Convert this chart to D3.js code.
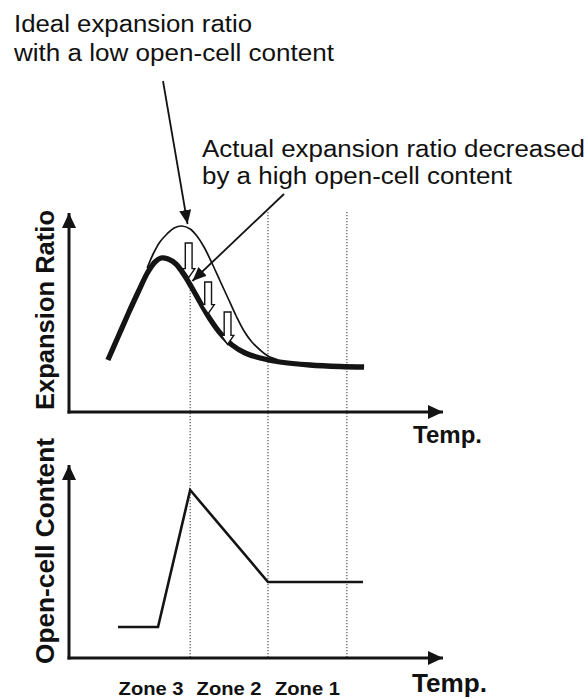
<!DOCTYPE html>
<html>
<head>
<meta charset="utf-8">
<script src="https://cdn.jsdelivr.net/npm/d3@7"></script>
<style>
  html, body { margin: 0; padding: 0; background: #fff; }
  svg { display: block; }
  text { font-family: "Liberation Sans", Arial, Helvetica, sans-serif; fill: #111; }
</style>
</head>
<body>
<svg id="chart" width="588" height="699"></svg>
<script>
// ---------------- data ----------------
// temperature (arbitrary units, 0-100) and expansion ratio (arbitrary, 0-1)
const idealTemp  = [20.9, 22.5, 24.3, 26.2, 28.1, 30.2, 32.4, 34.2, 36.1, 38.2, 40.4, 42.5, 44.7, 46.8, 48.9, 51.1, 53.2, 55.9];
const idealRatio = [0.72, 0.79, 0.85, 0.89, 0.92, 0.93, 0.915, 0.88, 0.825, 0.745, 0.655, 0.57, 0.48, 0.405, 0.35, 0.31, 0.28, 0.26];

const actualTemp  = [10.4, 13.1, 15.8, 18.5, 21.1, 23.0, 24.6, 26.5, 28.6, 30.8, 32.9, 35.0, 37.7, 40.4, 43.6, 47.1, 51.1, 56.4, 64.4, 72.5, 78.9];
const actualRatio = [0.26, 0.375, 0.49, 0.60, 0.70, 0.75, 0.77, 0.765, 0.74, 0.685, 0.62, 0.55, 0.465, 0.395, 0.335, 0.295, 0.27, 0.25, 0.235, 0.2275, 0.225];

// open-cell content (arbitrary, 0-1)
const openTemp    = [13.1, 23.8, 32.4, 53.2, 78.6];
const openContent = [0.155, 0.155, 0.84, 0.38, 0.38];

// zone boundaries and labels
const zoneBounds = [32.4, 53.2, 74.3];
const zoneStartTemp = 11.5;
const zoneLabels = ["Zone 3", "Zone 2", "Zone 1"];

// hollow "decrease" arrows: temp, from ratio, to ratio
const dropTemp = [32.0, 37.2, 42.4];
const dropFrom = [0.845, 0.65, 0.50];
const dropTo   = [0.672, 0.492, 0.338];

// texts
const idealNote  = ["Ideal expansion ratio", "with a low open-cell content"];
const actualNote = ["Actual expansion ratio decreased", "by a high open-cell content"];
const yLabelTop = "Expansion Ratio";
const yLabelBottom = "Open-cell Content";
const xLabel = "Temp.";

// ---------------- drawing ----------------
const svg = d3.select("#chart");
const ink = "#141414";

const x = d3.scaleLinear().domain([0, 100]).range([69, 443]);
const yTop = d3.scaleLinear().domain([0, 1]).range([412, 212]);
const yBot = d3.scaleLinear().domain([0, 1]).range([658, 458]);

const defs = svg.append("defs");
function marker(id, w, h) {
  defs.append("marker").attr("id", id)
    .attr("viewBox", `0 0 ${w} ${h}`).attr("refX", w).attr("refY", h / 2)
    .attr("markerWidth", w).attr("markerHeight", h)
    .attr("markerUnits", "userSpaceOnUse").attr("orient", "auto")
    .append("path").attr("d", `M0,0 L${w},${h/2} L0,${h} Z`).attr("fill", ink);
}
marker("axisHead", 15, 14);
marker("noteHead", 14, 12);

// dotted zone boundary lines
zoneBounds.forEach((b, i) => {
  svg.append("line")
    .attr("x1", x(b)).attr("x2", x(b))
    .attr("y1", i === 0 ? yTop(0.64) : yTop(1.0)).attr("y2", yBot(0))
    .attr("stroke", "#444").attr("stroke-width", 1.1)
    .attr("stroke-dasharray", "1.2,1.8");
});

// axes (top and bottom panel)
function axes(yS, top) {
  const xAxis = d3.axisBottom(x).tickValues([]).tickSizeOuter(0);
  const g = svg.append("g").attr("transform", `translate(0,${yS(0)})`).call(xAxis);
  g.select(".domain").attr("stroke", "none");
  svg.append("line").attr("x1", x(0) - 1.5).attr("x2", 443)
    .attr("y1", yS(0)).attr("y2", yS(0))
    .attr("stroke", ink).attr("stroke-width", 3).attr("marker-end", "url(#axisHead)");
  svg.append("line").attr("x1", x(0)).attr("x2", x(0))
    .attr("y1", yS(0) + 1.5).attr("y2", top)
    .attr("stroke", ink).attr("stroke-width", 3).attr("marker-end", "url(#axisHead)");
}
axes(yTop, 213);
axes(yBot, 465);

// curves
const lineTop = d3.line().x(d => x(d[0])).y(d => yTop(d[1])).curve(d3.curveCatmullRom.alpha(0.5));
svg.append("path").datum(d3.zip(idealTemp, idealRatio))
  .attr("d", lineTop).attr("fill", "none").attr("stroke", ink).attr("stroke-width", 1.7);
svg.append("path").datum(d3.zip(actualTemp, actualRatio))
  .attr("d", lineTop).attr("fill", "none").attr("stroke", ink)
  .attr("stroke-width", 5.3).attr("stroke-linecap", "butt").attr("stroke-linejoin", "round");

const lineBot = d3.line().x(d => x(d[0])).y(d => yBot(d[1]));
svg.append("path").datum(d3.zip(openTemp, openContent))
  .attr("d", lineBot).attr("fill", "none").attr("stroke", ink)
  .attr("stroke-width", 2.6).attr("stroke-linejoin", "miter");

// hollow drop arrows
dropTemp.forEach((t, i) => {
  const cx = x(t), y0 = yTop(dropFrom[i]), y1 = yTop(dropTo[i]);
  const sw = 3.4, hw = 6.2, hl = 9;
  const p = `M${cx - sw},${y0} L${cx + sw},${y0} L${cx + sw},${y1 - hl} L${cx + hw},${y1 - hl} L${cx},${y1} L${cx - hw},${y1 - hl} L${cx - sw},${y1 - hl} Z`;
  svg.append("path").attr("d", p).attr("fill", "#fff").attr("stroke", ink).attr("stroke-width", 1.4);
});

// annotation arrows
svg.append("line").attr("x1", 163).attr("y1", 81).attr("x2", x(31.7)).attr("y2", yTop(0.94))
  .attr("stroke", ink).attr("stroke-width", 1.8).attr("marker-end", "url(#noteHead)");
svg.append("line").attr("x1", 284).attr("y1", 194).attr("x2", x(33.0)).attr("y2", yTop(0.655))
  .attr("stroke", ink).attr("stroke-width", 1.8).attr("marker-end", "url(#noteHead)");

// annotation texts
const noteLen1 = [238, 320];
idealNote.forEach((s, i) => {
  svg.append("text").attr("x", 14).attr("y", 32 + i * 29).attr("font-size", 23)
    .attr("textLength", noteLen1[i]).attr("lengthAdjust", "spacingAndGlyphs").text(s);
});
const noteLen2 = [383, 310];
actualNote.forEach((s, i) => {
  svg.append("text").attr("x", 202).attr("y", 157 + i * 27).attr("font-size", 23)
    .attr("textLength", noteLen2[i]).attr("lengthAdjust", "spacingAndGlyphs").text(s);
});

// axis labels
svg.append("text").attr("transform", `translate(54,${yTop(0.51)}) rotate(-90)`)
  .attr("text-anchor", "middle").attr("font-size", 25).attr("font-weight", "bold")
  .attr("textLength", 200).attr("lengthAdjust", "spacingAndGlyphs").text(yLabelTop);
svg.append("text").attr("transform", `translate(54,${yBot(0.535)}) rotate(-90)`)
  .attr("text-anchor", "middle").attr("font-size", 25).attr("font-weight", "bold")
  .attr("textLength", 226).attr("lengthAdjust", "spacingAndGlyphs").text(yLabelBottom);

svg.append("text").attr("x", 413).attr("y", 443).attr("font-size", 24).attr("font-weight", "bold")
  .attr("textLength", 69).attr("lengthAdjust", "spacingAndGlyphs").text(xLabel);
svg.append("text").attr("x", 412).attr("y", 692).attr("font-size", 25).attr("font-weight", "bold")
  .attr("textLength", 75).attr("lengthAdjust", "spacingAndGlyphs").text(xLabel);

// zone labels centered in each zone
const zoneEdges = [zoneStartTemp].concat(zoneBounds);
zoneLabels.forEach((s, i) => {
  const cx = (x(zoneEdges[i]) + x(zoneEdges[i + 1])) / 2;
  svg.append("text").attr("x", cx).attr("y", 695).attr("text-anchor", "middle")
    .attr("font-size", 19).attr("font-weight", "bold")
    .attr("textLength", 65).attr("lengthAdjust", "spacingAndGlyphs").text(s);
});
</script>
</body>
</html>
